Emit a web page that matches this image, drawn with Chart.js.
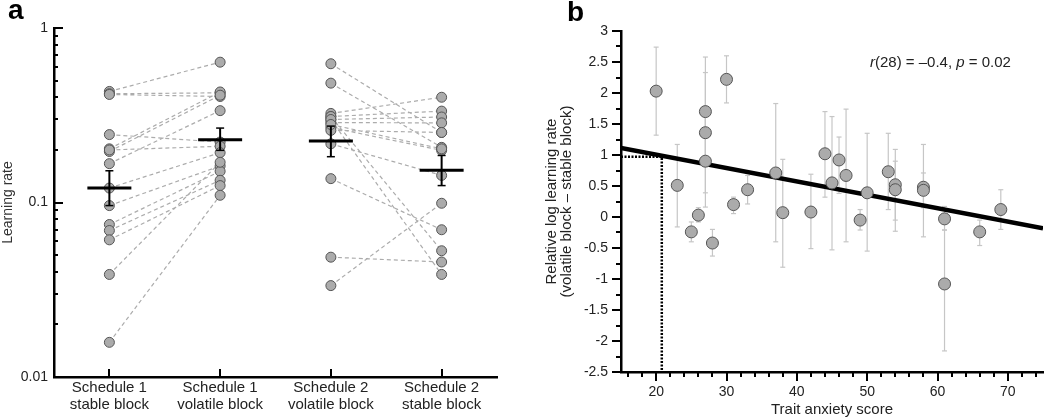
<!DOCTYPE html>
<html><head><meta charset="utf-8">
<script src="https://cdn.jsdelivr.net/npm/chart.js@4.4.1/dist/chart.umd.min.js"></script>
<style>
body{margin:0;background:#fff;font-family:'Liberation Sans',Arial,sans-serif;}
#wrap{position:relative;width:1050px;height:420px;overflow:hidden;background:#fff;}
canvas{position:absolute;top:0;}
.panel{position:absolute;font-weight:bold;font-size:28px;line-height:28px;color:#000;}
#stat{position:absolute;left:870px;top:54px;font-size:15px;line-height:15px;color:#222;white-space:nowrap;}
</style></head><body>
<div id="wrap">
<canvas id="ca" width="510" height="420" style="left:0"></canvas>
<canvas id="cb" width="530" height="420" style="left:520px"></canvas>
<div class="panel" style="left:8px;top:-4px">a</div>
<div class="panel" style="left:567px;top:-2px">b</div>
<div id="stat"><i>r</i>(28) = –0.4, <i>p</i> = 0.02</div>
</div>
<script>
// ---------- Panel a data ----------
const categoriesA = [['Schedule 1','stable block'],['Schedule 1','volatile block'],['Schedule 2','volatile block'],['Schedule 2','stable block']];
const catPos = [0.5, 1.5, 2.5, 3.5];
const sched1Stable   = [0.433, 0.420, 0.416, 0.245, 0.203, 0.196, 0.167, 0.200, 0.121, 0.096, 0.0748, 0.0691, 0.0611, 0.0387, 0.0158];
const sched1Volatile = [0.637, 0.425, 0.405, 0.222, 0.430, 0.412, 0.336, 0.210, 0.193, 0.162, 0.151, 0.134, 0.125, 0.170, 0.110];
const sched2Volatile = [0.624, 0.483, 0.324, 0.311, 0.299, 0.287, 0.269, 0.259, 0.311, 0.299, 0.217, 0.137, 0.0486, 0.0334, 0.280];
const sched2Stable   = [0.252, 0.207, 0.401, 0.334, 0.309, 0.286, 0.199, 0.252, 0.0529, 0.0387, 0.143, 0.0698, 0.0456, 0.099, 0.203];
const groupMean   = [0.121, 0.229, 0.225, 0.153];
const groupSeLow  = [0.096, 0.199, 0.183, 0.125];
const groupSeHigh = [0.152, 0.267, 0.274, 0.186];
const yTicksA = [0.01, 0.1, 1];

// ---------- Panel b data ----------
const anxietyScore = [20, 23, 25, 26, 27, 27, 27, 28, 30, 31, 33, 37, 38, 42, 44, 45, 46, 47, 49, 50, 53, 54, 54, 58, 58, 61, 61, 66, 69];
const relLogLR     = [2.03, 0.51, -0.24, 0.03, 1.70, 1.36, 0.90, -0.42, 2.22, 0.20, 0.44, 0.71, 0.07, 0.08, 1.02, 0.55, 0.92, 0.67, -0.05, 0.39, 0.73, 0.52, 0.44, 0.48, 0.43, -0.03, -1.08, -0.24, 0.12];
const ciLow        = [1.32, -0.16, -0.40, -0.08, 0.82, 0.39, 0.16, -0.63, 1.84, 0.055, 0.21, -0.40, -0.81, -0.51, 0.32, -0.53, 0.38, -0.40, -0.21, -0.55, 0.12, -0.05, -0.23, -0.32, 0.15, -0.21, -2.16, -0.46, -0.20];
const ciHigh       = [2.74, 1.17, -0.08, 0.15, 2.58, 2.33, 1.64, -0.20, 2.60, 0.32, 0.67, 1.83, 0.93, 0.69, 1.70, 1.62, 1.29, 1.74, 0.12, 1.35, 1.35, 1.09, 0.90, 1.17, 0.71, 0.17, -0.21, -0.05, 0.44];
const fitIntercept = 1.439, fitSlope = -0.0216;
const refAnxiety = 20.8, refRelLR = 0.97;
const xTicksB = [20, 30, 40, 50, 60, 70];
const yTicksB = [-2.5, -2, -1.5, -1, -0.5, 0, 0.5, 1, 1.5, 2, 2.5, 3];

const FONT = "'Liberation Sans', Arial, sans-serif";
Chart.defaults.font.family = FONT;
Chart.defaults.color = '#222';

function seg(ctx, x1, y1, x2, y2){ ctx.beginPath(); ctx.moveTo(x1,y1); ctx.lineTo(x2,y2); ctx.stroke(); }
function pairs(a, b, xa, xb){ const out=[]; a.forEach((v,i)=>{ out.push({x:xa,y:v},{x:xb,y:b[i]},{x:xb,y:null}); }); return out; }
function pts(arr, xv){ return arr.map(v=>({x:xv,y:v})); }

const POINT = {pointRadius:5, pointBackgroundColor:'#ababab', pointBorderColor:'#555', pointBorderWidth:1, showLine:false, order:0};
const DASH = {showLine:true, spanGaps:false, borderColor:'#acacac', borderWidth:1.2, borderDash:[4,3], pointRadius:0, order:1};

const plugA = {
  id:'plugA',
  afterDatasetsDraw(chart){
    const {ctx, scales:{x,y}} = chart;
    ctx.save(); ctx.strokeStyle='#000';
    catPos.forEach((c,i)=>{
      const px = x.getPixelForValue(c);
      const pm = y.getPixelForValue(groupMean[i]);
      const pl = y.getPixelForValue(groupSeLow[i]);
      const ph = y.getPixelForValue(groupSeHigh[i]);
      ctx.lineWidth = 3; seg(ctx, px-22, pm, px+22, pm);
      ctx.lineWidth = 2; seg(ctx, px, pl, px, ph);
      ctx.lineWidth = 1.5; seg(ctx, px-4, pl, px+4, pl); seg(ctx, px-4, ph, px+4, ph);
    });
    ctx.restore();
  },
  afterDraw(chart){
    const {ctx, scales:{x,y}} = chart;
    ctx.save(); ctx.strokeStyle='#000'; ctx.lineWidth=2;
    const lx = x.left;
    for (let e=-2; e<=0; e++) for (let m=1; m<=9; m++){
      const v = m*Math.pow(10,e); if (v > 1.0001) break;
      const py = Math.round(y.getPixelForValue(v));
      seg(ctx, lx, py, lx + (m===1 ? 9 : 4), py);
    }
    catPos.forEach(c=>{ const px = Math.round(x.getPixelForValue(c)); seg(ctx, px, y.bottom, px, y.bottom-8); });
    ctx.restore();
  }
};

new Chart(document.getElementById('ca'), {
  type:'scatter',
  data:{ datasets:[
    Object.assign({data:pts(sched1Stable, catPos[0])}, POINT),
    Object.assign({data:pts(sched1Volatile, catPos[1])}, POINT),
    Object.assign({data:pts(sched2Volatile, catPos[2])}, POINT),
    Object.assign({data:pts(sched2Stable, catPos[3])}, POINT),
    Object.assign({data:pairs(sched1Stable, sched1Volatile, catPos[0], catPos[1])}, DASH),
    Object.assign({data:pairs(sched2Volatile, sched2Stable, catPos[2], catPos[3])}, DASH)
  ]},
  options:{
    responsive:false, animation:false, events:[],
    layout:{padding:{top:28, right:13, left:0, bottom:0}},
    plugins:{legend:{display:false}, tooltip:{enabled:false}},
    scales:{
      x:{ type:'linear', min:0, max:4,
        grid:{display:false, drawTicks:false}, border:{display:true, color:'#000', width:2.5},
        afterBuildTicks:s=>{ s.ticks = catPos.map(v=>({value:v})); },
        afterFit:s=>{ s.height = 43; },
        ticks:{ autoSkip:false, maxRotation:0, padding:3, color:'#222', font:{size:15, lineHeight:1.1},
          callback:v=>categoriesA[catPos.indexOf(v)] } },
      y:{ type:'logarithmic', min:0.01, max:1,
        grid:{display:false, drawTicks:false}, border:{display:true, color:'#000', width:2.5},
        afterBuildTicks:s=>{ s.ticks = yTicksA.map(v=>({value:v})); },
        afterFit:s=>{ s.width = 54; },
        ticks:{ padding:6, color:'#222', font:{size:14}, callback:v=>String(v) },
        title:{ display:true, text:'Learning rate', color:'#333', font:{size:14}, padding:{top:0,bottom:0} } }
    }
  },
  plugins:[plugA]
});

const plugB = {
  id:'plugB',
  beforeDatasetsDraw(chart){
    const {ctx, scales:{x,y}} = chart;
    ctx.save(); ctx.strokeStyle='#c6c6c6'; ctx.lineWidth=1.2;
    anxietyScore.forEach((a,i)=>{
      const px = x.getPixelForValue(a);
      const y1 = y.getPixelForValue(ciLow[i]), y2 = y.getPixelForValue(ciHigh[i]);
      seg(ctx, px, y1, px, y2); seg(ctx, px-2.5, y1, px+2.5, y1); seg(ctx, px-2.5, y2, px+2.5, y2);
    });
    ctx.restore();
  },
  afterDraw(chart){
    const {ctx, scales:{x,y}} = chart;
    ctx.save(); ctx.strokeStyle='#000'; ctx.lineWidth=2;
    for (let v=16; v<=74; v+=2){
      const px = Math.round(x.getPixelForValue(v));
      seg(ctx, px, x.top, px, x.top + (v%10===0 ? 9 : 5));
    }
    for (let k=0; k<=22; k++){
      const v = -2.5 + k*0.25;
      const py = Math.round(y.getPixelForValue(v));
      seg(ctx, y.right, py, y.right - (k%2===0 ? 9 : 5), py);
    }
    ctx.restore();
  }
};

new Chart(document.getElementById('cb'), {
  type:'scatter',
  data:{ datasets:[
    { data:anxietyScore.map((a,i)=>({x:a, y:relLogLR[i]})), pointRadius:6, pointBackgroundColor:'#ababab', pointBorderColor:'#555', pointBorderWidth:1, showLine:false, order:0 },
    { data:[{x:15, y:fitIntercept+fitSlope*15},{x:75, y:fitIntercept+fitSlope*75}], showLine:true, borderColor:'#000', borderWidth:4.5, pointRadius:0, order:1 },
    { data:[{x:15, y:refRelLR},{x:refAnxiety, y:refRelLR},{x:refAnxiety, y:-2.5}], showLine:true, borderColor:'#000', borderWidth:2.5, borderDash:[2,1.5], pointRadius:0, order:2 }
  ]},
  options:{
    responsive:false, animation:false, events:[],
    layout:{padding:{top:31, right:0, left:0, bottom:0}},
    plugins:{legend:{display:false}, tooltip:{enabled:false}},
    scales:{
      x:{ type:'linear', min:15, max:75,
        grid:{display:false, drawTicks:false}, border:{display:true, color:'#000', width:2.5},
        afterBuildTicks:s=>{ s.ticks = xTicksB.map(v=>({value:v})); },
        afterFit:s=>{ s.height = 48; },
        ticks:{ autoSkip:false, maxRotation:0, padding:12, color:'#222', font:{size:14} },
        title:{ display:true, text:'Trait anxiety score', color:'#222', font:{size:15}, padding:{top:0,bottom:1} } },
      y:{ type:'linear', min:-2.5, max:3,
        grid:{display:false, drawTicks:false}, border:{display:true, color:'#000', width:2.5},
        afterBuildTicks:s=>{ s.ticks = yTicksB.map(v=>({value:v})); },
        afterFit:s=>{ s.width = 101; },
        ticks:{ padding:13, color:'#222', font:{size:14}, callback:v=>String(v) },
        title:{ display:true, text:['Relative log learning rate','(volatile block – stable block)'], color:'#222', font:{size:15, lineHeight:1}, padding:{top:24,bottom:0} } }
    }
  },
  plugins:[plugB]
});
</script>
</body></html>
